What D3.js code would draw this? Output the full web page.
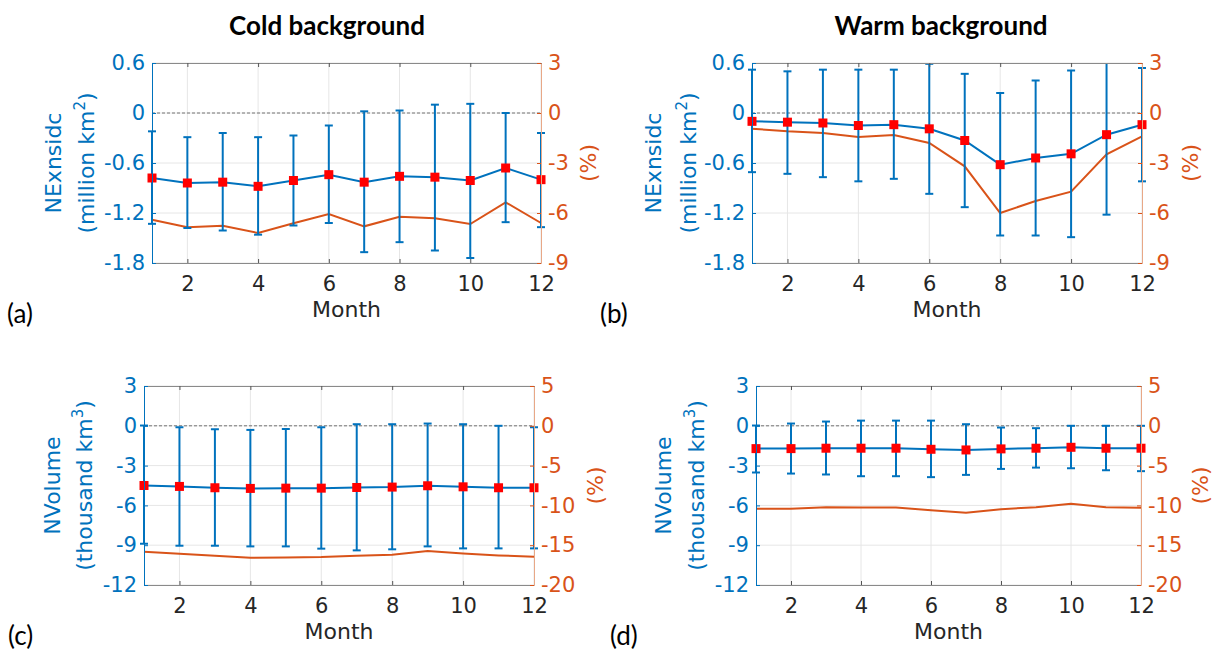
<!DOCTYPE html>
<html>
<head>
<meta charset="utf-8">
<script src="https://cdn.jsdelivr.net/npm/d3@7"></script>
<style>
  body { margin: 0; background: #fff; }
</style>
</head>
<body>
<script>
// Months and ticks
const months = [1, 2, 3, 4, 5, 6, 7, 8, 9, 10, 11, 12];
const monthTicks = [2, 4, 6, 8, 10, 12];

const extTicks = [0.6, 0, -0.6, -1.2, -1.8];
const extPctTicks = [3, 0, -3, -6, -9];
const volTicks = [3, 0, -3, -6, -9, -12];
const volPctTicks = [5, 0, -5, -10, -15, -20];

// (a) cold background, NExnsidc (million km2)
const coldExtMean = [-0.78, -0.84, -0.83, -0.88, -0.81, -0.74, -0.83, -0.76, -0.77, -0.81, -0.66, -0.80];
const coldExtHigh = [-0.22, -0.29, -0.24, -0.29, -0.27, -0.15, 0.02, 0.03, 0.10, 0.11, 0.00, -0.24];
const coldExtLow = [-1.33, -1.38, -1.41, -1.46, -1.35, -1.32, -1.67, -1.55, -1.65, -1.74, -1.31, -1.37];
const coldExtPct = [-6.4, -6.86, -6.76, -7.2, -6.62, -6.06, -6.8, -6.22, -6.32, -6.66, -5.36, -6.6];

// (b) warm background, NExnsidc (million km2)
const warmExtMean = [-0.10, -0.11, -0.12, -0.15, -0.14, -0.19, -0.33, -0.62, -0.54, -0.49, -0.26, -0.14];
const warmExtHigh = [0.52, 0.50, 0.52, 0.52, 0.52, 0.59, 0.47, 0.24, 0.39, 0.51, 0.66, 0.54];
const warmExtLow = [-0.71, -0.73, -0.77, -0.82, -0.79, -0.97, -1.13, -1.47, -1.47, -1.49, -1.22, -0.82];
const warmExtPct = [-0.94, -1.1, -1.2, -1.44, -1.32, -1.8, -3.2, -6.0, -5.28, -4.72, -2.48, -1.4];

// (c) cold background, NVolume (thousand km3)
const coldVolMean = [-4.50, -4.57, -4.67, -4.72, -4.70, -4.70, -4.65, -4.62, -4.52, -4.60, -4.67, -4.67];
const coldVolHigh = [0.02, -0.11, -0.26, -0.31, -0.24, -0.11, 0.12, 0.12, 0.17, 0.12, 0.00, -0.11];
const coldVolLow = [-8.89, -9.04, -9.04, -9.09, -9.09, -9.26, -9.39, -9.31, -9.09, -9.24, -9.24, -9.24];
const coldVolPct = [-15.82, -16.07, -16.32, -16.57, -16.53, -16.49, -16.32, -16.2, -15.74, -16.03, -16.28, -16.45];

// (d) warm background, NVolume (thousand km3)
const warmVolMean = [-1.72, -1.72, -1.69, -1.69, -1.69, -1.77, -1.82, -1.74, -1.69, -1.62, -1.69, -1.69];
const warmVolHigh = [0.02, 0.17, 0.32, 0.39, 0.39, 0.39, 0.12, -0.13, -0.18, 0.00, 0.00, 0.00];
const warmVolLow = [-3.52, -3.60, -3.67, -3.80, -3.80, -3.87, -3.70, -3.25, -3.15, -3.20, -3.35, -3.42];
const warmVolPct = [-10.43, -10.43, -10.22, -10.26, -10.26, -10.6, -10.93, -10.47, -10.22, -9.8, -10.22, -10.3];

const BLUE = "#0072BD";
const ORANGE = "#D95319";
const DARK = "#262626";
const TICK_FONT = "DejaVu Sans, sans-serif";

const width = 1216, height = 652;

const svg = d3.select("body").append("svg")
    .attr("width", width)
    .attr("height", height)
    .style("font-family", TICK_FONT);

const panels = [
    { key: "a", tag: "(a)", tagX: 7, x0: 152, x1: 541, y0: 63, y1: 263,
      yDomain: [-1.8, 0.6], yTicks: extTicks, y2Domain: [-9, 3], y2Ticks: extPctTicks,
      mean: coldExtMean, high: coldExtHigh, low: coldExtLow, pct: coldExtPct,
      label1: "NExnsidc", label2: "(million km", sup: "2", l1X: 53, l2X: 86, rX: 588 },
    { key: "b", tag: "(b)", tagX: 600, x0: 752, x1: 1142, y0: 63, y1: 263,
      yDomain: [-1.8, 0.6], yTicks: extTicks, y2Domain: [-9, 3], y2Ticks: extPctTicks,
      mean: warmExtMean, high: warmExtHigh, low: warmExtLow, pct: warmExtPct,
      label1: "NExnsidc", label2: "(million km", sup: "2", l1X: 653, l2X: 688, rX: 1190 },
    { key: "c", tag: "(c)", tagX: 8, x0: 144, x1: 534, y0: 386, y1: 585,
      yDomain: [-12, 3], yTicks: volTicks, y2Domain: [-20, 5], y2Ticks: volPctTicks,
      mean: coldVolMean, high: coldVolHigh, low: coldVolLow, pct: coldVolPct,
      label1: "NVolume", label2: "(thousand km", sup: "3", l1X: 52, l2X: 84, rX: 595 },
    { key: "d", tag: "(d)", tagX: 610, x0: 756, x1: 1141, y0: 386, y1: 585,
      yDomain: [-12, 3], yTicks: volTicks, y2Domain: [-20, 5], y2Ticks: volPctTicks,
      mean: warmVolMean, high: warmVolHigh, low: warmVolLow, pct: warmVolPct,
      label1: "NVolume", label2: "(thousand km", sup: "3", l1X: 663, l2X: 696, rX: 1200 }
];

panels.forEach(drawPanel);

// Column titles
svg.append("text")
    .attr("x", 327).attr("y", 35)
    .attr("text-anchor", "middle")
    .style("font-family", "Lato, sans-serif")
    .style("font-weight", "bold")
    .style("font-size", "26px")
    .style("fill", "#000")
    .text("Cold background");

svg.append("text")
    .attr("x", 941).attr("y", 35)
    .attr("text-anchor", "middle")
    .style("font-family", "Lato, sans-serif")
    .style("font-weight", "bold")
    .style("font-size", "26px")
    .style("fill", "#000")
    .text("Warm background");

function drawPanel(p) {
    const x = d3.scaleLinear().domain([1, 12]).range([p.x0, p.x1]);
    const y = d3.scaleLinear().domain(p.yDomain).range([p.y1, p.y0]);
    const y2 = d3.scaleLinear().domain(p.y2Domain).range([p.y1, p.y0]);
    const yc = (p.y0 + p.y1) / 2;

    const clipId = "clip-" + p.key;
    svg.append("clipPath").attr("id", clipId)
        .append("rect")
        .attr("x", p.x0 - 6).attr("y", p.y0)
        .attr("width", p.x1 - p.x0 + 12).attr("height", p.y1 - p.y0);

    const g = svg.append("g");

    // grid
    g.append("g").selectAll("line").data(monthTicks).join("line")
        .attr("x1", d => x(d)).attr("x2", d => x(d))
        .attr("y1", p.y0).attr("y2", p.y1)
        .attr("stroke", "#e6e6e6");
    g.append("g").selectAll("line").data(p.yTicks).join("line")
        .attr("x1", p.x0).attr("x2", p.x1)
        .attr("y1", d => y(d)).attr("y2", d => y(d))
        .attr("stroke", "#e6e6e6");

    // zero reference
    g.append("line")
        .attr("x1", p.x0).attr("x2", p.x1)
        .attr("y1", y(0)).attr("y2", y(0))
        .attr("stroke", "#555")
        .attr("stroke-width", 0.8)
        .attr("stroke-dasharray", "3,2");

    // percent line (right axis)
    g.append("path")
        .datum(p.pct)
        .attr("fill", "none")
        .attr("stroke", ORANGE)
        .attr("stroke-width", 2)
        .attr("d", d3.line().x((d, i) => x(months[i])).y(d => y2(d)));

    // error bars
    const eb = g.append("g").attr("clip-path", `url(#${clipId})`)
        .attr("stroke", BLUE).attr("stroke-width", 2);
    eb.selectAll(".bar").data(months).join("line")
        .attr("class", "bar")
        .attr("x1", d => x(d)).attr("x2", d => x(d))
        .attr("y1", (d, i) => y(p.high[i])).attr("y2", (d, i) => y(p.low[i]));
    eb.selectAll(".capHi").data(months).join("line")
        .attr("class", "capHi")
        .attr("x1", d => x(d) - 4).attr("x2", d => x(d) + 4)
        .attr("y1", (d, i) => y(p.high[i])).attr("y2", (d, i) => y(p.high[i]));
    eb.selectAll(".capLo").data(months).join("line")
        .attr("class", "capLo")
        .attr("x1", d => x(d) - 4).attr("x2", d => x(d) + 4)
        .attr("y1", (d, i) => y(p.low[i])).attr("y2", (d, i) => y(p.low[i]));

    // mean line and markers
    g.append("path")
        .datum(p.mean)
        .attr("fill", "none")
        .attr("stroke", BLUE)
        .attr("stroke-width", 2)
        .attr("d", d3.line().x((d, i) => x(months[i])).y(d => y(d)));

    g.append("g").selectAll("rect").data(months).join("rect")
        .attr("x", d => x(d) - 4.5)
        .attr("y", (d, i) => y(p.mean[i]) - 4.5)
        .attr("width", 9).attr("height", 9)
        .attr("fill", "#ff0000");

    // axes
    const top = g.append("g")
        .attr("transform", `translate(0,${p.y0})`)
        .call(d3.axisTop(x).tickValues(monthTicks).tickSize(-4).tickSizeOuter(0).tickFormat(""));
    top.select(".domain").attr("stroke", "#8a8a8a");
    top.selectAll(".tick line").attr("stroke", "#555");

    const bottom = g.append("g")
        .attr("transform", `translate(0,${p.y1})`)
        .call(d3.axisBottom(x).tickValues(monthTicks).tickSize(-4).tickSizeOuter(0).tickPadding(13));
    bottom.select(".domain").attr("stroke", "#8a8a8a");
    bottom.selectAll(".tick line").attr("stroke", "#555");
    bottom.selectAll("text").style("font-size", "21px").style("font-family", TICK_FONT).attr("fill", DARK);

    const left = g.append("g")
        .attr("transform", `translate(${p.x0},0)`)
        .call(d3.axisLeft(y).tickValues(p.yTicks).tickSize(-4).tickSizeOuter(0).tickPadding(7).tickFormat(d => String(d)));
    left.attr("color", BLUE);
    left.selectAll("text").style("font-size", "21px").style("font-family", TICK_FONT);

    const right = g.append("g")
        .attr("transform", `translate(${p.x1},0)`)
        .call(d3.axisRight(y2).tickValues(p.y2Ticks).tickSize(-4).tickSizeOuter(0).tickPadding(7).tickFormat(d => String(d)));
    right.attr("color", ORANGE);
    right.select(".domain").attr("stroke", "#e8a887");
    right.selectAll("text").style("font-size", "21px").style("font-family", TICK_FONT);

    // axis titles
    svg.append("text")
        .attr("x", (p.x0 + p.x1) / 2).attr("y", p.y1 + 54)
        .attr("text-anchor", "middle")
        .style("font-size", "22px")
        .style("fill", DARK)
        .text("Month");

    svg.append("text")
        .attr("transform", `translate(${p.l1X + 8},${yc}) rotate(-90)`)
        .attr("text-anchor", "middle")
        .style("font-size", "22px")
        .style("fill", BLUE)
        .text(p.label1);

    const l2 = svg.append("text")
        .attr("transform", `translate(${p.l2X + 8},${yc}) rotate(-90)`)
        .attr("text-anchor", "middle")
        .style("font-size", "22px")
        .style("fill", BLUE);
    l2.append("tspan").text(p.label2);
    l2.append("tspan").attr("dy", -9).style("font-size", "15px").text(p.sup);
    l2.append("tspan").attr("dy", 9).text(")");

    svg.append("text")
        .attr("transform", `translate(${p.rX + 8},${yc}) rotate(-90)`)
        .attr("text-anchor", "middle")
        .style("font-size", "22px")
        .style("fill", ORANGE)
        .text("(%)");

    // panel tag
    svg.append("text")
        .attr("x", p.tagX).attr("y", p.y1 + 60)
        .style("font-family", "Lato, sans-serif")
        .style("font-size", "26px")
        .style("fill", "#000")
        .text(p.tag);
}
</script>
</body>
</html>
